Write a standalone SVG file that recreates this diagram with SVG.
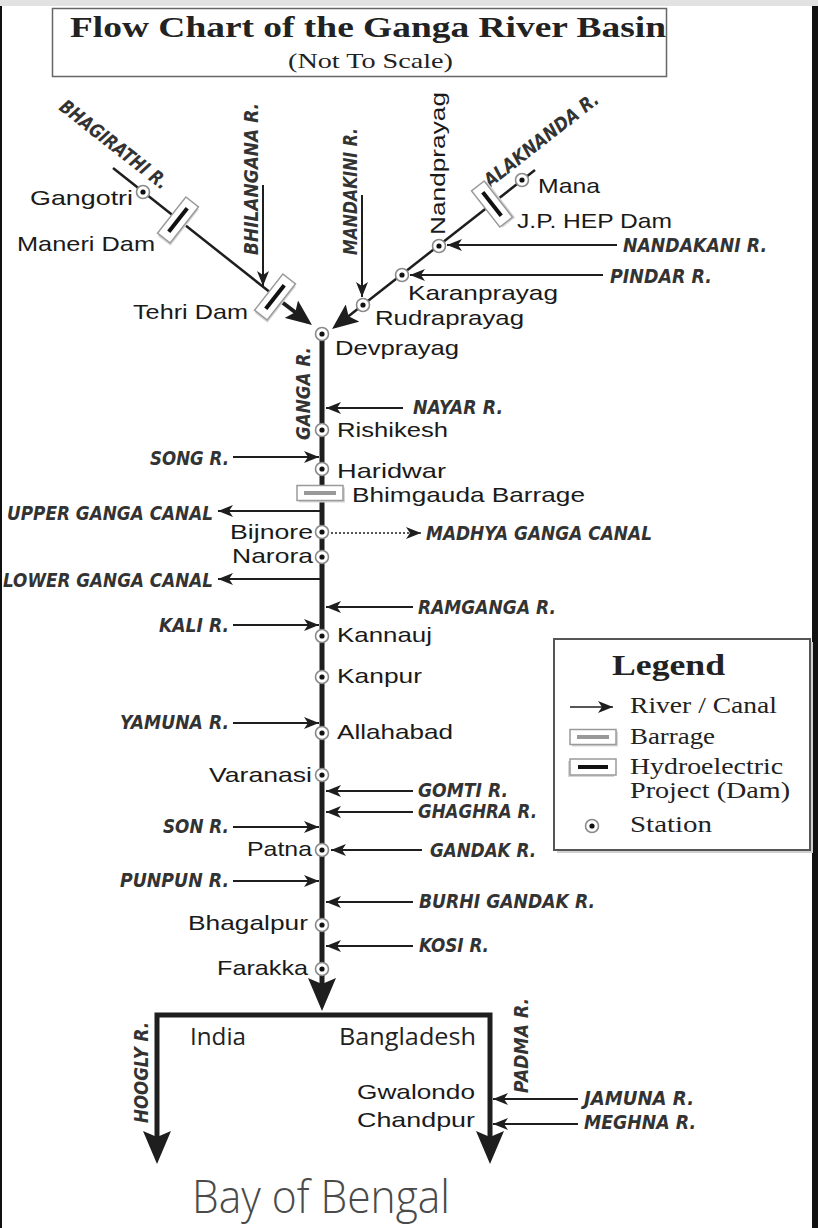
<svg xmlns="http://www.w3.org/2000/svg" xmlns:xlink="http://www.w3.org/1999/xlink" width="818" height="1228" viewBox="0 0 818 1228">
<style>
.stl{font-family:"Liberation Sans",Arial,sans-serif;font-size:21px;fill:#1a1a1a}
.trib{font-family:"DejaVu Sans",sans-serif;font-weight:bold;font-style:italic;font-size:19px;fill:#333}
.leg{font-family:"Liberation Serif","Times New Roman",serif;font-size:24px;fill:#222}
.hum{font-family:"Open Sans","Noto Sans",sans-serif;fill:#222}
.ar{stroke:#1e1e1e;stroke-width:2;fill:none;marker-end:url(#sm)}
.riv{stroke:#1e1e1e;fill:none}
</style>
<defs>
<marker id="sm" markerUnits="userSpaceOnUse" markerWidth="16" markerHeight="12" refX="15" refY="6" orient="auto"><path d="M0,0 L15,6 L0,12 L4,6 z" fill="#1e1e1e"/></marker>
<marker id="md" markerUnits="userSpaceOnUse" markerWidth="28" markerHeight="22" refX="21" refY="11" orient="auto"><path d="M0,0 L26,11 L0,22 L5,11 z" fill="#1e1e1e"/></marker>
<marker id="lg" markerUnits="userSpaceOnUse" markerWidth="34" markerHeight="30" refX="26" refY="14" orient="auto"><path d="M0,0 L33,14 L0,28 L6,14 z" fill="#1e1e1e"/></marker>
<g id="stn"><circle r="6.5" fill="#fff" stroke="#8a8a8a" stroke-width="1.6"/><circle r="2.6" fill="#111"/></g>
<g id="dam"><rect x="-6" y="-21" width="16" height="46" fill="#d6d6d6"/><rect x="-8" y="-23" width="16" height="46" fill="#fff" stroke="#9a9a9a" stroke-width="1.5"/><line x1="0" y1="-15" x2="0" y2="15" stroke="#111" stroke-width="4"/></g>
<g id="barr"><rect x="-21" y="-5.5" width="46" height="15" fill="#d6d6d6"/><rect x="-23" y="-7.5" width="46" height="15" fill="#fff" stroke="#9a9a9a" stroke-width="1.5"/><line x1="-16" y1="0" x2="16" y2="0" stroke="#999" stroke-width="4"/></g>
</defs>

<rect x="0" y="0" width="818" height="1228" fill="#fff"/>
<rect x="0" y="0" width="818" height="6" fill="#e2e2e2"/>
<rect x="0" y="6" width="2" height="1222" fill="#111"/>
<rect x="812" y="6" width="6" height="1222" fill="#111"/>

<g id="title">
<rect x="52.5" y="8.5" width="614" height="68" fill="#fff" stroke="#666" stroke-width="1.5"/>
<text x="70" y="37" font-family="'Liberation Serif','Times New Roman',serif" font-weight="bold" font-size="30" fill="#222" textLength="596" lengthAdjust="spacingAndGlyphs">Flow Chart of the Ganga River Basin</text>
<text x="288" y="68" font-family="'Liberation Serif','Times New Roman',serif" font-size="22" fill="#222" textLength="165" lengthAdjust="spacingAndGlyphs">(Not To Scale)</text>
</g>

<g id="connectors">
<path class="riv" d="M113,168 L276,297" stroke-width="2.5"/>
<path class="riv" d="M274,296 L308,322" stroke-width="4" marker-end="url(#md)"/>
<path class="riv" d="M535,170 L336,326" stroke-width="2.5" marker-end="url(#md)"/>
<line class="ar" x1="263" y1="185" x2="263" y2="286"/>
<line class="ar" x1="362" y1="195" x2="362" y2="297"/>
<line class="ar" x1="617" y1="245" x2="447" y2="245"/>
<line class="ar" x1="603" y1="275" x2="410" y2="275"/>
<line class="riv" x1="322" y1="336" x2="322" y2="1004" stroke-width="5" marker-end="url(#lg)"/>
<polyline class="riv" points="157,1157 157,1015 490,1015 490,1157" stroke-width="5" stroke-linejoin="miter"/>
<line class="riv" x1="157" y1="1140" x2="157" y2="1157" stroke-width="5" marker-end="url(#lg)"/>
<line class="riv" x1="490" y1="1140" x2="490" y2="1157" stroke-width="5" marker-end="url(#lg)"/>
<line class="ar" x1="403" y1="408" x2="326" y2="408"/>
<line class="ar" x1="233" y1="457" x2="319" y2="457"/>
<line class="ar" x1="322" y1="511" x2="218" y2="511"/>
<line x1="331" y1="533" x2="421" y2="533" stroke="#1e1e1e" stroke-width="1.5" stroke-dasharray="2,2" marker-end="url(#sm)"/>
<line class="ar" x1="322" y1="579" x2="218" y2="579"/>
<line class="ar" x1="413" y1="607" x2="326" y2="607"/>
<line class="ar" x1="233" y1="625" x2="319" y2="625"/>
<line class="ar" x1="233" y1="723" x2="319" y2="723"/>
<line class="ar" x1="413" y1="791" x2="326" y2="791"/>
<line class="ar" x1="413" y1="812" x2="326" y2="812"/>
<line class="ar" x1="233" y1="827" x2="319" y2="827"/>
<line class="ar" x1="422" y1="850" x2="331" y2="850"/>
<line class="ar" x1="233" y1="881" x2="319" y2="881"/>
<line class="ar" x1="413" y1="902" x2="326" y2="902"/>
<line class="ar" x1="413" y1="946" x2="326" y2="946"/>
<line class="ar" x1="578" y1="1099" x2="493" y2="1099"/>
<line class="ar" x1="578" y1="1124" x2="493" y2="1124"/>
</g>

<g id="river-labels">
<text class="trib" transform="translate(58,109) rotate(38)" textLength="132" lengthAdjust="spacingAndGlyphs">BHAGIRATHI R.</text>
<text class="trib" transform="translate(490,188) rotate(-38)" textLength="140" lengthAdjust="spacingAndGlyphs">ALAKNANDA R.</text>
<text class="trib" transform="translate(258,255) rotate(-90)" textLength="152" lengthAdjust="spacingAndGlyphs">BHILANGANA R.</text>
<text class="trib" transform="translate(357,255) rotate(-90)" textLength="127" lengthAdjust="spacingAndGlyphs">MANDAKINI R.</text>
<text class="trib" transform="translate(310,440) rotate(-90)" textLength="93" lengthAdjust="spacingAndGlyphs">GANGA R.</text>
<text class="trib" transform="translate(148,1123) rotate(-90)" textLength="101" lengthAdjust="spacingAndGlyphs">HOOGLY R.</text>
<text class="trib" transform="translate(528,1093) rotate(-90)" textLength="95" lengthAdjust="spacingAndGlyphs">PADMA R.</text>
<text class="trib" x="623" y="252" textLength="144" lengthAdjust="spacingAndGlyphs">NANDAKANI R.</text>
<text class="trib" x="610" y="283" textLength="102" lengthAdjust="spacingAndGlyphs">PINDAR R.</text>
<text class="trib" x="413" y="414" textLength="90" lengthAdjust="spacingAndGlyphs">NAYAR R.</text>
<text class="trib" x="150" y="465" textLength="79" lengthAdjust="spacingAndGlyphs">SONG R.</text>
<text class="trib" x="7" y="520" textLength="206" lengthAdjust="spacingAndGlyphs">UPPER GANGA CANAL</text>
<text class="trib" x="426" y="540" textLength="226" lengthAdjust="spacingAndGlyphs">MADHYA GANGA CANAL</text>
<text class="trib" x="3" y="587" textLength="210" lengthAdjust="spacingAndGlyphs">LOWER GANGA CANAL</text>
<text class="trib" x="418" y="614" textLength="138" lengthAdjust="spacingAndGlyphs">RAMGANGA R.</text>
<text class="trib" x="159" y="632" textLength="70" lengthAdjust="spacingAndGlyphs">KALI R.</text>
<text class="trib" x="120" y="729" textLength="109" lengthAdjust="spacingAndGlyphs">YAMUNA R.</text>
<text class="trib" x="418" y="797" textLength="90" lengthAdjust="spacingAndGlyphs">GOMTI R.</text>
<text class="trib" x="418" y="818" textLength="119" lengthAdjust="spacingAndGlyphs">GHAGHRA R.</text>
<text class="trib" x="163" y="833" textLength="66" lengthAdjust="spacingAndGlyphs">SON R.</text>
<text class="trib" x="430" y="857" textLength="106" lengthAdjust="spacingAndGlyphs">GANDAK R.</text>
<text class="trib" x="120" y="887" textLength="109" lengthAdjust="spacingAndGlyphs">PUNPUN R.</text>
<text class="trib" x="419" y="908" textLength="176" lengthAdjust="spacingAndGlyphs">BURHI GANDAK R.</text>
<text class="trib" x="419" y="952" textLength="70" lengthAdjust="spacingAndGlyphs">KOSI R.</text>
<text class="trib" x="584" y="1105" textLength="110" lengthAdjust="spacingAndGlyphs">JAMUNA R.</text>
<text class="trib" x="584" y="1129" textLength="112" lengthAdjust="spacingAndGlyphs">MEGHNA R.</text>
</g>

<g id="maneri-dam"><use xlink:href="#dam" transform="translate(178,220) rotate(38)"/><text class="stl" x="17" y="251" textLength="138" lengthAdjust="spacingAndGlyphs">Maneri Dam</text></g>
<g id="tehri-dam"><use xlink:href="#dam" transform="translate(275,297) rotate(38)"/><text class="stl" x="133" y="319" textLength="115" lengthAdjust="spacingAndGlyphs">Tehri Dam</text></g>
<g id="jp-hep-dam"><use xlink:href="#dam" transform="translate(492,204) rotate(-38)"/><text class="stl" x="517" y="228" textLength="155" lengthAdjust="spacingAndGlyphs">J.P. HEP Dam</text></g>
<g id="bhimgauda-barrage"><use xlink:href="#barr" x="320" y="493"/><text class="stl" x="352" y="502" textLength="233" lengthAdjust="spacingAndGlyphs">Bhimgauda Barrage</text></g>

<g id="gangotri"><use xlink:href="#stn" x="143" y="192"/><text class="stl" x="30" y="205" textLength="103" lengthAdjust="spacingAndGlyphs">Gangotri</text></g>
<g id="mana"><use xlink:href="#stn" x="522" y="180"/><text class="stl" x="538" y="193" textLength="62" lengthAdjust="spacingAndGlyphs">Mana</text></g>
<g id="nandprayag"><use xlink:href="#stn" x="439" y="246"/><text class="stl" transform="translate(445,235) rotate(-90)" textLength="143" lengthAdjust="spacingAndGlyphs">Nandprayag</text></g>
<g id="karanprayag"><use xlink:href="#stn" x="402" y="275"/><text class="stl" x="408" y="300" textLength="150" lengthAdjust="spacingAndGlyphs">Karanprayag</text></g>
<g id="rudraprayag"><use xlink:href="#stn" x="363" y="305"/><text class="stl" x="375" y="325" textLength="149" lengthAdjust="spacingAndGlyphs">Rudraprayag</text></g>
<g id="devprayag"><use xlink:href="#stn" x="322" y="334"/><text class="stl" x="335" y="355" textLength="124" lengthAdjust="spacingAndGlyphs">Devprayag</text></g>
<g id="rishikesh"><use xlink:href="#stn" x="322" y="430"/><text class="stl" x="337" y="437" textLength="111" lengthAdjust="spacingAndGlyphs">Rishikesh</text></g>
<g id="haridwar"><use xlink:href="#stn" x="322" y="469"/><text class="stl" x="337" y="478" textLength="109" lengthAdjust="spacingAndGlyphs">Haridwar</text></g>
<g id="bijnore"><use xlink:href="#stn" x="322" y="532"/><text class="stl" x="230" y="539" textLength="83" lengthAdjust="spacingAndGlyphs">Bijnore</text></g>
<g id="narora"><use xlink:href="#stn" x="322" y="557"/><text class="stl" x="232" y="563" textLength="81" lengthAdjust="spacingAndGlyphs">Narora</text></g>
<g id="kannauj"><use xlink:href="#stn" x="322" y="636"/><text class="stl" x="337" y="642" textLength="95" lengthAdjust="spacingAndGlyphs">Kannauj</text></g>
<g id="kanpur"><use xlink:href="#stn" x="322" y="677"/><text class="stl" x="337" y="683" textLength="85" lengthAdjust="spacingAndGlyphs">Kanpur</text></g>
<g id="allahabad"><use xlink:href="#stn" x="322" y="733"/><text class="stl" x="337" y="739" textLength="116" lengthAdjust="spacingAndGlyphs">Allahabad</text></g>
<g id="varanasi"><use xlink:href="#stn" x="322" y="775"/><text class="stl" x="209" y="782" textLength="103" lengthAdjust="spacingAndGlyphs">Varanasi</text></g>
<g id="patna"><use xlink:href="#stn" x="322" y="850"/><text class="stl" x="247" y="856" textLength="65" lengthAdjust="spacingAndGlyphs">Patna</text></g>
<g id="bhagalpur"><use xlink:href="#stn" x="322" y="925"/><text class="stl" x="188" y="930" textLength="120" lengthAdjust="spacingAndGlyphs">Bhagalpur</text></g>
<g id="farakka"><use xlink:href="#stn" x="322" y="969"/><text class="stl" x="217" y="975" textLength="91" lengthAdjust="spacingAndGlyphs">Farakka</text></g>

<g id="countries">
<text class="hum" x="190" y="1045" font-size="24" textLength="56" lengthAdjust="spacingAndGlyphs">India</text>
<text class="hum" x="339" y="1045" font-size="24" textLength="137" lengthAdjust="spacingAndGlyphs">Bangladesh</text>
</g>
<g id="gwalondo"><text class="stl" x="357" y="1099" textLength="118" lengthAdjust="spacingAndGlyphs">Gwalondo</text></g>
<g id="chandpur"><text class="stl" x="357" y="1127" textLength="118" lengthAdjust="spacingAndGlyphs">Chandpur</text></g>
<g id="bay-of-bengal"><text class="hum" x="192" y="1213" font-size="46" font-weight="300" style="fill:#4a4a4a" textLength="258" lengthAdjust="spacingAndGlyphs">Bay of Bengal</text></g>

<g id="legend">
<rect x="557" y="642" width="256" height="211" fill="#d0d0d0"/>
<rect x="554" y="639" width="256" height="211" fill="#fff" stroke="#555" stroke-width="2"/>
<text x="612" y="675" font-family="'Liberation Serif','Times New Roman',serif" font-weight="bold" font-size="30" fill="#222" textLength="113" lengthAdjust="spacingAndGlyphs">Legend</text>
<line x1="570" y1="707" x2="613" y2="707" stroke="#1e1e1e" stroke-width="1.5" marker-end="url(#sm)"/>
<text class="leg" x="630" y="713" textLength="147" lengthAdjust="spacingAndGlyphs">River / Canal</text>
<use xlink:href="#barr" x="593" y="737"/>
<text class="leg" x="630" y="744" textLength="85" lengthAdjust="spacingAndGlyphs">Barrage</text>
<use xlink:href="#dam" transform="translate(593,767) rotate(90)"/>
<text class="leg" x="630" y="774" font-size="21" textLength="153" lengthAdjust="spacingAndGlyphs">Hydroelectric</text>
<text class="leg" x="630" y="798" font-size="21" textLength="160" lengthAdjust="spacingAndGlyphs">Project (Dam)</text>
<use xlink:href="#stn" x="592" y="826"/>
<text class="leg" x="630" y="832" textLength="82" lengthAdjust="spacingAndGlyphs">Station</text>
</g>
</svg>
